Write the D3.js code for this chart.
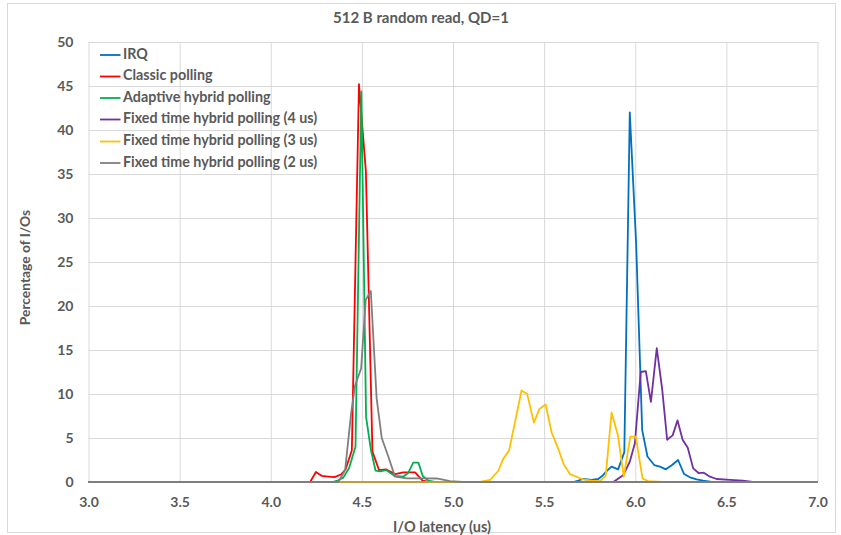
<!DOCTYPE html>
<html>
<head>
<meta charset="utf-8">
<script src="https://cdn.jsdelivr.net/npm/d3@7"></script>
<style>
    body { margin: 0; background: #fff; }
    text { font-family: Lato, "Open Sans", sans-serif; font-weight: bold; fill: #595959; }
</style>
</head>
<body>
<svg id="latency" width="841" height="535"></svg>
<script>
// series names + colours (legend order)
const seriesNames = ["IRQ", "Classic polling", "Adaptive hybrid polling",
    "Fixed time hybrid polling (4 us)", "Fixed time hybrid polling (3 us)", "Fixed time hybrid polling (2 us)"];
const seriesColors = ["#0070C0", "#FF0000", "#00B050", "#7030A0", "#FFC000", "#7F7F7F"];

// [latency (us), percentage of I/Os]
const irq = [[3.0, 0], [5.66, 0], [5.716, 0.34], [5.76, 0.23], [5.797, 0.34], [5.82, 0.7], [5.843, 1.25], [5.87, 1.75],
    [5.906, 1.44], [5.94, 3.4], [5.97, 42.0], [6.005, 27.0], [6.038, 5.9], [6.067, 2.9], [6.104, 1.93], [6.135, 1.74],
    [6.168, 1.44], [6.202, 1.93], [6.235, 2.5], [6.268, 0.9], [6.3, 0.53], [6.337, 0.3], [6.372, 0.15], [6.42, 0], [7.0, 0]];
const classicPolling = [[3.0, 0], [4.216, 0], [4.248, 1.14], [4.279, 0.7], [4.316, 0.62], [4.35, 0.55], [4.385, 0.85],
    [4.41, 1.4], [4.445, 3.6], [4.484, 45.2], [4.522, 35.3], [4.558, 3.45], [4.594, 1.36], [4.632, 1.44], [4.682, 0.9],
    [4.727, 1.1], [4.792, 1.1], [4.833, 0.15], [4.87, 0], [7.0, 0]];
const adaptivePolling = [[3.0, 0], [4.34, 0], [4.37, 0.2], [4.398, 0.5], [4.43, 1.6], [4.465, 4.0], [4.497, 44.4],
    [4.523, 7.4], [4.55, 3.6], [4.575, 1.3], [4.6, 1.2], [4.633, 1.36], [4.68, 0.68], [4.727, 0.6], [4.755, 1.06],
    [4.782, 2.2], [4.81, 2.2], [4.834, 0.68], [4.865, 0.15], [4.9, 0], [7.0, 0]];
const fixed4us = [[3.0, 0], [5.88, 0], [5.935, 0.8], [5.97, 2.3], [5.998, 4.4], [6.03, 12.5], [6.058, 12.6], [6.086, 9.1],
    [6.118, 15.2], [6.148, 10.5], [6.175, 4.8], [6.205, 5.3], [6.232, 7.0], [6.26, 4.8], [6.288, 3.9], [6.318, 1.55],
    [6.349, 1.0], [6.376, 1.06], [6.41, 0.6], [6.446, 0.34], [6.52, 0.23], [6.59, 0.15], [6.645, 0], [7.0, 0]];
const fixed3us = [[3.0, 0], [5.148, 0], [5.203, 0.23], [5.248, 1.25], [5.275, 2.6], [5.308, 3.6], [5.376, 10.4],
    [5.407, 10.0], [5.444, 6.75], [5.473, 8.26], [5.508, 8.8], [5.541, 5.65], [5.577, 3.8], [5.608, 2.0], [5.641, 0.9],
    [5.678, 0.6], [5.714, 0.3], [5.76, 0.15], [5.806, 0.1], [5.838, 0.7], [5.87, 7.9], [5.905, 5.3], [5.937, 0.6],
    [5.973, 5.15], [6.003, 5.15], [6.04, 0.4], [6.07, 0.1], [6.15, 0], [7.0, 0]];
const fixed2us = [[3.0, 0], [4.371, 0], [4.408, 1.36], [4.441, 7.8], [4.463, 11.0], [4.496, 12.9], [4.521, 20.7],
    [4.549, 21.7], [4.581, 9.5], [4.609, 5.0], [4.645, 2.9], [4.682, 0.6], [4.746, 0.42], [4.856, 0.42], [4.91, 0.4],
    [4.984, 0.1], [5.05, 0], [7.0, 0]];

const xTicks = [3.0, 3.5, 4.0, 4.5, 5.0, 5.5, 6.0, 6.5, 7.0];
const yTicks = [0, 5, 10, 15, 20, 25, 30, 35, 40, 45, 50];

const allSeries = [irq, classicPolling, adaptivePolling, fixed4us, fixed3us, fixed2us];

const svg = d3.select("svg#latency");
const margin = { top: 42, right: 23.5, bottom: 53, left: 88.5 };
const width = +svg.attr("width");
const height = +svg.attr("height");
const chartWidth = width - margin.left - margin.right;
const chartHeight = height - margin.top - margin.bottom;

// outer frame
svg.append("rect")
    .attr("x", 7.5).attr("y", 3.5)
    .attr("width", 828).attr("height", 529)
    .attr("fill", "#fff")
    .attr("stroke", "#d9d9d9");

const xScale = d3.scaleLinear().domain([3, 7]).range([0, chartWidth]);
const yScale = d3.scaleLinear().domain([0, 50]).range([chartHeight, 0]);

let annotations = svg.append("g").attr("id", "annotations")
    .attr("transform", `translate(${margin.left},${margin.top})`);
let chartArea = svg.append("g").attr("id", "lines")
    .attr("transform", `translate(${margin.left},${margin.top})`);

// gridlines
annotations.append("g")
    .attr("class", "y gridlines")
    .call(d3.axisLeft(yScale).tickValues(yTicks).tickSize(-chartWidth).tickFormat(""))
    .call(g => g.select(".domain").remove())
    .call(g => g.selectAll("line").attr("stroke", "#d9d9d9"));
annotations.append("g")
    .attr("class", "x gridlines")
    .attr("transform", `translate(0,${chartHeight})`)
    .call(d3.axisBottom(xScale).tickValues(xTicks).tickSize(-chartHeight).tickFormat(""))
    .call(g => g.select(".domain").remove())
    .call(g => g.selectAll("line").attr("stroke", "#d9d9d9"));

// tick labels
annotations.append("g")
    .attr("class", "y axis")
    .call(d3.axisLeft(yScale).tickValues(yTicks).tickSize(0).tickPadding(15))
    .call(g => g.select(".domain").remove())
    .call(g => g.selectAll("text").attr("font-size", 14).style("font-family", "Lato, sans-serif"));
annotations.append("g")
    .attr("class", "x axis")
    .attr("transform", `translate(0,${chartHeight})`)
    .call(d3.axisBottom(xScale).tickValues(xTicks).tickSize(0).tickPadding(15.5).tickFormat(d3.format(".1f")))
    .call(g => g.select(".domain").remove())
    .call(g => g.selectAll("text").attr("font-size", 14).style("font-family", "Lato, sans-serif"));

// lines
const line = d3.line().x(d => xScale(d[0])).y(d => yScale(d[1]));
chartArea.selectAll("path.series").data(allSeries)
    .join("path").attr("class", "series")
    .attr("fill", "none")
    .attr("stroke", (d, i) => seriesColors[i])
    .attr("stroke-width", 1.8)
    .attr("stroke-linejoin", "round")
    .attr("d", line);

// bottom axis line
chartArea.append("line")
    .attr("x1", 0).attr("x2", chartWidth)
    .attr("y1", chartHeight).attr("y2", chartHeight)
    .attr("stroke", "#7f7f7f")
    .attr("stroke-width", 1.2);

// titles
svg.append("text")
    .attr("x", 421).attr("y", 23)
    .attr("text-anchor", "middle")
    .attr("font-size", 15)
    .text("512 B random read, QD=1");
svg.append("text")
    .attr("x", 442).attr("y", 531.5)
    .attr("text-anchor", "middle")
    .attr("font-size", 14.5)
    .text("I/O latency (us)");
svg.append("text")
    .attr("transform", "translate(30,267.5) rotate(-90)")
    .attr("text-anchor", "middle")
    .attr("font-size", 13.8)
    .text("Percentage of I/Os");

// legend
const legend = svg.append("g").attr("id", "legend");
const legendRows = [55, 76.5, 98, 119.5, 141.5, 163];
seriesNames.forEach((name, i) => {
    legend.append("line")
        .attr("x1", 100).attr("x2", 120.5)
        .attr("y1", legendRows[i]).attr("y2", legendRows[i])
        .attr("stroke", seriesColors[i])
        .attr("stroke-width", 1.8);
    legend.append("text")
        .attr("x", 123).attr("y", legendRows[i])
        .attr("dominant-baseline", "middle")
        .attr("font-size", 14.3)
        .text(name);
});
</script>
</body>
</html>
